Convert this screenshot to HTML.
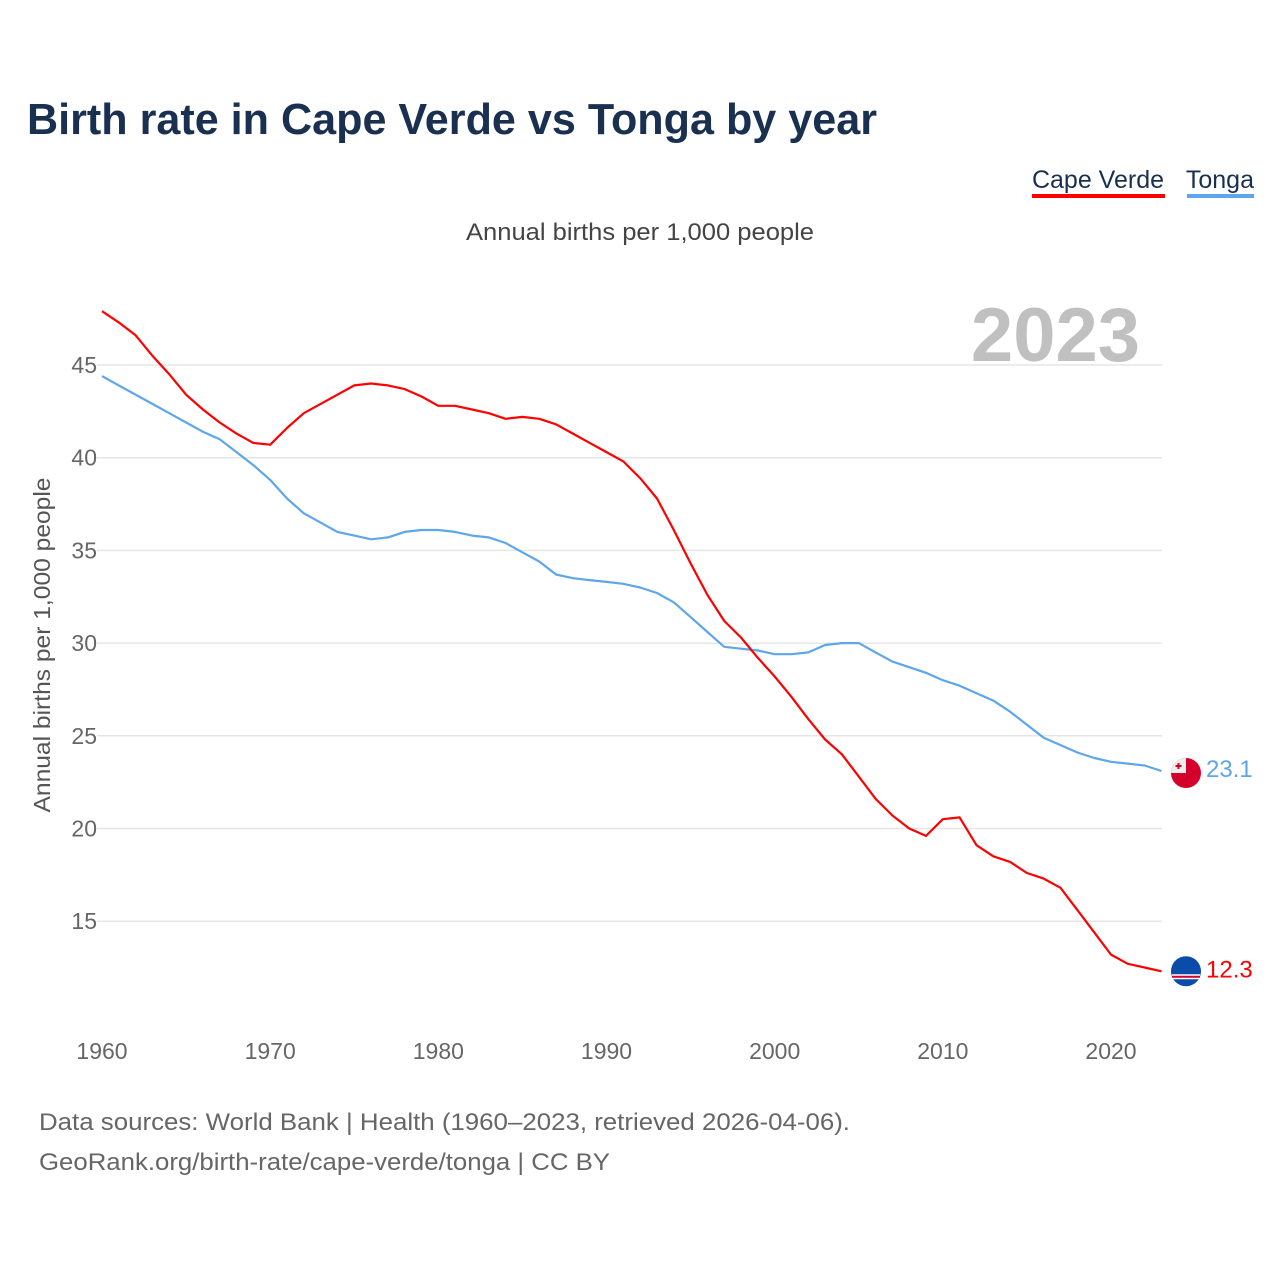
<!DOCTYPE html>
<html><head><meta charset="utf-8"><style>
body{margin:0;background:#fff;width:1280px;height:1280px;overflow:hidden;font-family:"Liberation Sans",sans-serif}
</style></head><body>
<svg id="chart" width="1280" height="1280" xmlns="http://www.w3.org/2000/svg" font-family="Liberation Sans, sans-serif">
<text x="27" y="134" font-size="44" font-weight="bold" fill="#1a3050" textLength="850" lengthAdjust="spacingAndGlyphs">Birth rate in Cape Verde vs Tonga by year</text>
<g>
<text x="1164" y="188" text-anchor="end" font-size="25" fill="#1a3050">Cape Verde</text>
<rect x="1032" y="194" width="133" height="4" fill="#ff0000"/>
<text x="1254" y="188" text-anchor="end" font-size="25" fill="#1a3050">Tonga</text>
<rect x="1187" y="194" width="67" height="4" fill="#5ea6ec"/>
</g>
<text x="640" y="240" text-anchor="middle" font-size="24" fill="#444" textLength="348" lengthAdjust="spacingAndGlyphs">Annual births per 1,000 people</text>
<text x="1140" y="361" text-anchor="end" font-size="76" font-weight="bold" fill="#c0c0c0">2023</text>
<text transform="translate(50,645) rotate(-90)" text-anchor="middle" font-size="23" fill="#555" textLength="335" lengthAdjust="spacingAndGlyphs">Annual births per 1,000 people</text>
<g id="grid"></g><g id="series"></g>
<text x="39" y="1130" font-size="24" fill="#666" textLength="811" lengthAdjust="spacingAndGlyphs">Data sources: World Bank | Health (1960–2023, retrieved 2026-04-06).</text>
<text x="39" y="1170" font-size="24" fill="#666" textLength="571" lengthAdjust="spacingAndGlyphs">GeoRank.org/birth-rate/cape-verde/tonga | CC BY</text>
</svg>
<script>
const years=[];for(let y=1960;y<=2023;y++)years.push(y);
const capeVerde=[47.9,47.3,46.6,45.5,44.5,43.4,42.6,41.9,41.3,40.8,40.7,41.6,42.4,42.9,43.4,43.9,44.0,43.9,43.7,43.3,42.8,42.8,42.6,42.4,42.1,42.2,42.1,41.8,41.3,40.8,40.3,39.8,38.9,37.8,36.1,34.3,32.6,31.2,30.3,29.2,28.2,27.1,25.9,24.8,24.0,22.8,21.6,20.7,20.0,19.6,20.5,20.6,19.1,18.5,18.2,17.6,17.3,16.8,15.6,14.4,13.2,12.7,12.5,12.3];
const tonga=[44.4,43.9,43.4,42.9,42.4,41.9,41.4,41.0,40.3,39.6,38.8,37.8,37.0,36.5,36.0,35.8,35.6,35.7,36.0,36.1,36.1,36.0,35.8,35.7,35.4,34.9,34.4,33.7,33.5,33.4,33.3,33.2,33.0,32.7,32.2,31.4,30.6,29.8,29.7,29.6,29.4,29.4,29.5,29.9,30.0,30.0,29.5,29.0,28.7,28.4,28.0,27.7,27.3,26.9,26.3,25.6,24.9,24.5,24.1,23.8,23.6,23.5,23.4,23.1];
const yTicks=[15,20,25,30,35,40,45];
const xTicks=[1960,1970,1980,1990,2000,2010,2020];
const NS="http://www.w3.org/2000/svg";
const X=y=>102+(y-1960)*1009/60;
const Y=v=>365+(45-v)*18.54;
function mk(tag,attrs,parent){const e=document.createElementNS(NS,tag);for(const k in attrs)e.setAttribute(k,attrs[k]);parent.appendChild(e);return e;}
const grid=document.getElementById('grid'),ser=document.getElementById('series');
yTicks.forEach(v=>{
 const l=mk('line',{x1:97,x2:1162,y1:Y(v),y2:Y(v),stroke:'#e6e6e6','stroke-width':1.5},grid);
 
 
 const t=mk('text',{x:97,y:Y(v)+8,'text-anchor':'end','font-size':23,fill:'#666'},grid);
 t.textContent=v;
 
 
});
xTicks.forEach(v=>{
 const t=mk('text',{x:X(v),y:1059,'text-anchor':'middle','font-size':23,fill:'#666'},grid);
 t.textContent=v;
 
 
});
function line(data,color,name){
 const p=mk('path',{d:data.map((v,i)=>(i?'L':'M')+X(years[i]).toFixed(1)+','+Y(v).toFixed(1)).join(''),fill:'none',stroke:color,'stroke-width':2.2,'stroke-linejoin':'round'},ser);
 
 
 const last=data[data.length-1],cy=Y(last);
 const t=mk('text',{x:1206,y:cy+6,'font-size':24,fill:color},ser);
 t.textContent=last.toFixed(1);
 
 
 return cy;
}
const cyT=line(tonga,'#5ea6ec','tonga');
const cyC=line(capeVerde,'#ff0000','cape-verde');
const ft=mk('g',{},ser);


mk('circle',{cx:1186,cy:cyT+2,r:15,fill:'#d2002a'},ft);
mk('path',{d:`M1171,${cyT+2} A15,15 0 0 1 1186,${cyT-13} L1186,${cyT+2} Z`,fill:'#eee'},ft);
mk('path',{d:`M1178.5,${cyT-8}v6M1175.5,${cyT-5}h6`,stroke:'#d2002a','stroke-width':2},ft);
const fc=mk('g',{},ser);


mk('circle',{cx:1186,cy:cyC,r:15,fill:'#0a4ca8'},fc);
mk('rect',{x:1172,y:cyC+3,width:28,height:5,fill:'#fff'},fc);
mk('rect',{x:1172,y:cyC+4.5,width:28,height:2,fill:'#d2002a'},fc);
</script>
</body></html>
